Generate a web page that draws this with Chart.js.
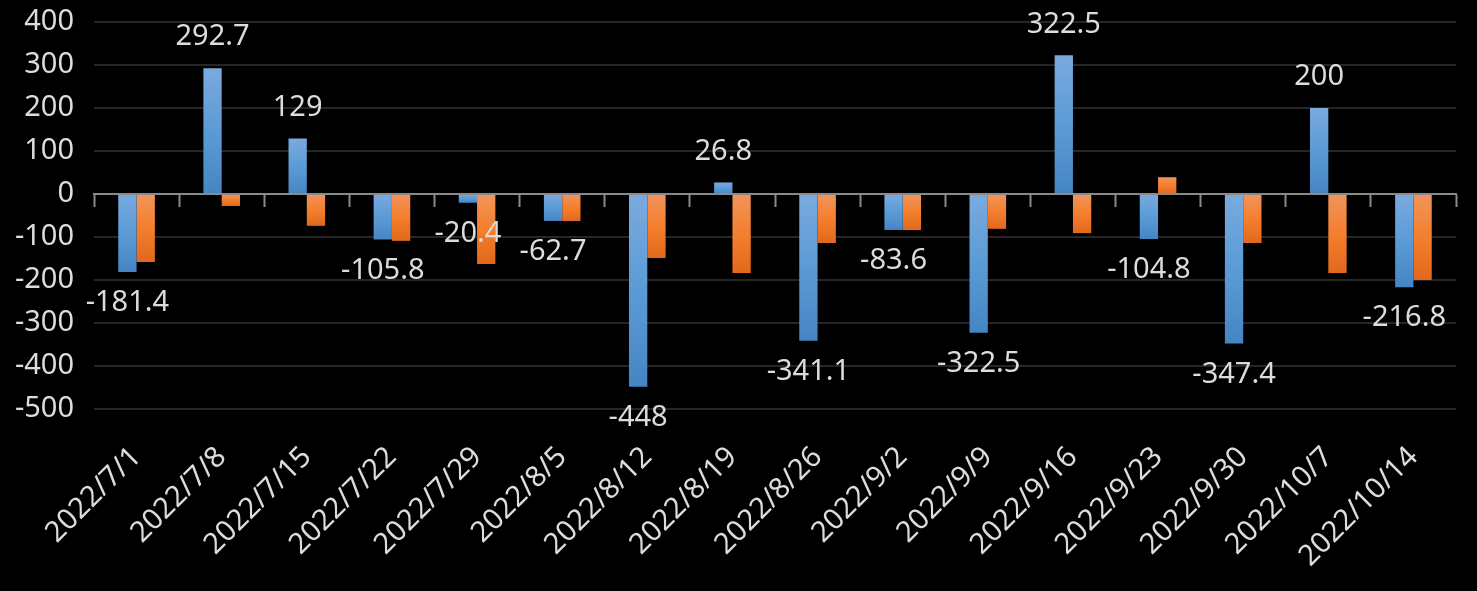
<!DOCTYPE html>
<html>
<head>
<meta charset="utf-8">
<script src="https://cdn.jsdelivr.net/npm/chart.js@4/dist/chart.umd.min.js"></script>
<style>
  html, body { margin: 0; padding: 0; background: #000; }
  #wrap { width: 1477px; height: 591px; position: relative; }
  canvas { display: block; }
</style>
</head>
<body>
<div id="wrap"><canvas id="c" width="1477" height="591"></canvas></div>
<script>
const categories = ["2022/7/1","2022/7/8","2022/7/15","2022/7/22","2022/7/29","2022/8/5","2022/8/12","2022/8/19","2022/8/26","2022/9/2","2022/9/9","2022/9/16","2022/9/23","2022/9/30","2022/10/7","2022/10/14"];
const seriesBlue = [-181.4, 292.7, 129, -105.8, -20.4, -62.7, -448, 26.8, -341.1, -83.6, -322.5, 322.5, -104.8, -347.4, 200, -216.8];
const seriesOrange = [-158, -28, -74, -109, -163, -63, -149, -184, -114, -84, -81, -91, 39, -114, -184, -200];
const yMin = -500, yMax = 400, yStep = 100;

const FONT = "'Noto Sans', 'Open Sans', sans-serif";
const TEXT = '#dcdcdc';

function gradientFill(stops) {
  return function (ctx) {
    const chart = ctx.chart;
    const sy = chart.scales && chart.scales.y;
    if (ctx.type !== 'data' || !sy || !isFinite(sy.getPixelForValue(0))) return stops[1];
    const p0 = sy.getPixelForValue(0), p1 = sy.getPixelForValue(ctx.raw);
    const top = Math.min(p0, p1), bot = Math.max(p0, p1);
    if (bot - top < 1) return stops[1];
    const g = chart.ctx.createLinearGradient(0, top, 0, bot);
    g.addColorStop(0, stops[0]);
    g.addColorStop(0.5, stops[1]);
    g.addColorStop(1, stops[2]);
    return g;
  };
}

const valueLabels = {
  id: 'valueLabels',
  afterDatasetsDraw(chart) {
    const meta = chart.getDatasetMeta(0);
    const c = chart.ctx;
    c.save();
    c.font = '29px ' + FONT;
    c.fillStyle = TEXT;
    c.textAlign = 'center';
    c.textBaseline = 'middle';
    meta.data.forEach((el, i) => {
      const v = chart.data.datasets[0].data[i];
      const y = v >= 0 ? el.y - 31 : el.y + 31;
      c.fillText(String(v), el.x, y);
    });
    c.restore();
  }
};

new Chart(document.getElementById('c'), {
  type: 'bar',
  data: {
    labels: categories,
    datasets: [
      { data: seriesBlue, backgroundColor: gradientFill(['#7aaadf', '#5b9bd5', '#4685c4']), borderWidth: 0,
        categoryPercentage: 0.43, barPercentage: 1.0 },
      { data: seriesOrange, backgroundColor: gradientFill(['#f1945c', '#f47f2e', '#e2681b']), borderWidth: 0,
        categoryPercentage: 0.43, barPercentage: 1.0 }
    ]
  },
  options: {
    responsive: false,
    animation: false,
    devicePixelRatio: 1,
    layout: { padding: { left: 0, right: 21, top: 22, bottom: 0 } },
    plugins: { legend: { display: false }, tooltip: { enabled: false } },
    scales: {
      x: {
        type: 'category',
        position: 'bottom',
        grid: { display: false, drawTicks: false },
        border: { display: false },
        ticks: { color: TEXT, font: { family: FONT, size: 29 }, maxRotation: 45, minRotation: 45, autoSkip: false, padding: 31 },
        afterFit(scale) { scale.height = 182; }
      },
      x2: {
        type: 'category',
        labels: categories,
        position: { y: 0 },
        offset: true,
        grid: { offset: true, drawOnChartArea: false, drawTicks: true, tickLength: 12, tickWidth: 2, color: '#8a8a8a' },
        border: { display: true, color: '#8a8a8a', width: 2 },
        ticks: { display: false },
        afterFit(scale) { scale.height = 0; }
      },
      y: {
        min: yMin, max: yMax,
        ticks: { stepSize: yStep, color: TEXT, font: { family: FONT, size: 29 }, padding: 20 },
        grid: { color: (ctx) => ctx.tick && ctx.tick.value === 0 ? '#8a8a8a' : '#262626', lineWidth: 2, drawTicks: false },
        border: { display: false },
        afterFit(scale) { scale.width = 94; scale.paddingTop = 0; scale.paddingBottom = 0; }
      }
    }
  },
  plugins: [valueLabels]
});
</script>
</body>
</html>
